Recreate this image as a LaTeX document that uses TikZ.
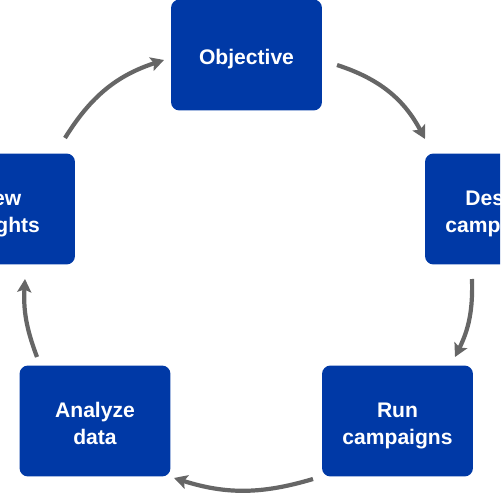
\documentclass[tikz,border=0pt]{standalone}
\usepackage{fontspec}
\setmainfont{Liberation Sans}
\usetikzlibrary{arrows.meta}
\definecolor{boxblue}{HTML}{0039A6}
\definecolor{arrowgray}{HTML}{666666}
\newcommand\boxtxt[1]{\raisebox{-2.6pt}[\height][\depth]{\begin{tabular}{@{}c@{}}#1\end{tabular}}}
\tikzset{
  stepbox/.style={draw=none, fill=boxblue, rounded corners=0.17cm,
    minimum width=3.02cm, minimum height=2.22cm, inner sep=0pt,
    text=white, font=\bfseries\fontsize{12}{15.3}\selectfont, align=center},
  cyc/.style={draw=arrowgray, line width=2.4pt,
    -{Stealth[length=7.5pt,width=8pt,inset=1.5pt]}}
}
\begin{document}
\begin{tikzpicture}[x=0.02cm,y=-0.02cm]
\useasboundingbox (0,0) rectangle (500,500);
\clip (0,0) rectangle (500,500);
\node[stepbox] (obj) at (246.5,55) {\boxtxt{Objective}};
\node[stepbox] (des) at (500.5,209) {\boxtxt{Design\\campaigns}};
\node[stepbox] (run) at (397.5,421) {\boxtxt{Run\\campaigns}};
\node[stepbox] (ana) at (95,421) {\boxtxt{Analyze\\data}};
\node[stepbox] (rev) at (-0.5,209) {\boxtxt{New\\insights}};
\coordinate (a1) at (337,65);  \coordinate (b1) at (425,139);
\coordinate (a2) at (472,279); \coordinate (b2) at (455,357);
\coordinate (a3) at (313,479); \coordinate (b3) at (174,478);
\coordinate (a4) at (37,357);  \coordinate (b4) at (25,279);
\coordinate (a5) at (65,138);  \coordinate (b5) at (164,60);
\draw[cyc] (a1) to[bend left=22] (b1);
\draw[cyc] (a2) to[bend left=14] (b2);
\draw[cyc] (a3) to[bend left=17] (b3);
\draw[cyc] (a4) to[bend left=12] (b4);
\draw[cyc] (a5) to[bend left=20] (b5);
\end{tikzpicture}
\end{document}
